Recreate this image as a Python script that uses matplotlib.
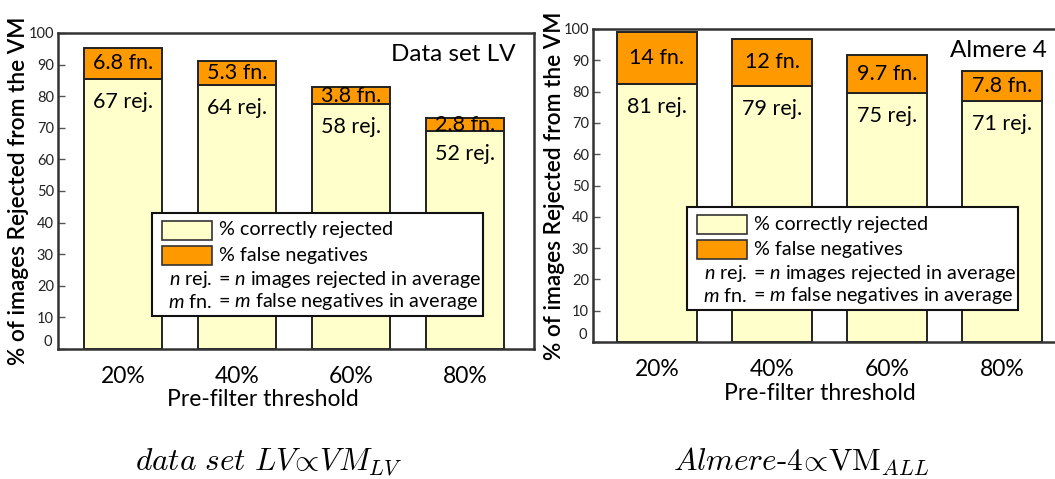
import matplotlib
matplotlib.use('Agg')
import matplotlib.pyplot as plt
from matplotlib.patches import Rectangle
import numpy as np

plt.rcParams['font.family'] = ['Lato', 'DejaVu Sans']
plt.rcParams['mathtext.fontset'] = 'custom'
plt.rcParams['mathtext.rm'] = 'Lato'
plt.rcParams['mathtext.it'] = 'Lato:italic'

# data
thresholds = ['20%', '40%', '60%', '80%']

lv_correct = [85.4, 83.4, 77.4, 68.9]
lv_false = [9.9, 7.7, 5.4, 4.1]
lv_rej = ['67', '64', '58', '52']
lv_fn = ['6.8', '5.3', '3.8', '2.8']

alm_correct = [82.5, 81.9, 79.6, 77.1]
alm_false = [16.6, 14.9, 12.0, 9.5]
alm_rej = ['81', '79', '75', '71']
alm_fn = ['14', '12', '9.7', '7.8']

W, H = 1055, 479
CREAM = '#ffffcc'
ORANGE = '#ff9900'
EDGE = '#222222'
KEY_FS = 14.2

fig = plt.figure(figsize=(W / 100, H / 100), dpi=100)


def fx(px):
    return px / W


def fy(py):
    return 1 - py / H


def panel(rect, correct, false, rej, fn, title, xlim, barw, ylab_x, xlab_pos, key):
    left, top, right, bottom = rect
    ax = fig.add_axes([fx(left), fy(bottom), fx(right - left), fy(top) - fy(bottom)])
    x = np.arange(len(thresholds))
    ax.bar(x, correct, barw, color=CREAM, edgecolor=EDGE, linewidth=1.4, zorder=2)
    ax.bar(x, false, barw, bottom=correct, color=ORANGE, edgecolor=EDGE, linewidth=1.4, zorder=2)
    for i in range(len(x)):
        ax.text(x[i], correct[i] + false[i] / 2, fn[i] + ' fn.', ha='center', va='center',
                fontsize=15.5, zorder=3)
        ax.annotate(rej[i] + ' rej.', (x[i], correct[i]), xytext=(0, -23),
                    textcoords='offset pixels', ha='center', va='center', fontsize=15.5, zorder=3)
    ax.set_xlim(*xlim)
    ax.set_ylim(0, 100)
    ax.set_xticks(x)
    ax.set_xticklabels(thresholds, fontsize=16.5)
    ax.tick_params(axis='x', length=0, pad=12)
    ax.set_yticks(np.arange(0, 101, 10))
    ax.set_yticklabels([''] + [str(v) for v in range(10, 101, 10)], fontsize=10.5, color='#222222')
    ax.tick_params(axis='y', direction='in', length=5, width=1, color='#555555', pad=3)
    ax.text(-0.012, 0.0, '0', transform=ax.transAxes, ha='right', va='bottom',
            fontsize=10.5, color='#222222')
    for s in ax.spines.values():
        s.set_linewidth(1.8)
        s.set_color('#333333')
    ax.set_ylabel('% of images Rejected from the VM', fontsize=16.3, fontweight='semibold')
    ax.yaxis.set_label_coords(ylab_x, 0.5)
    ax.set_xlabel('Pre-filter threshold', fontsize=16.5, va='center')
    ax.xaxis.set_label_coords(*xlab_pos)
    ax.text(0.962, 0.932, title, transform=ax.transAxes, ha='right', va='center', fontsize=17.5)

    # key box
    kx, ky = key
    fig.patches.append(Rectangle((fx(kx), fy(ky + 103)), fx(331), fy(0) - fy(103),
                                 transform=fig.transFigure, facecolor='white',
                                 edgecolor='#111111', linewidth=1.5, zorder=5))
    rows = [ky + 17, ky + 42, ky + 66, ky + 89]
    for r, c, lab in [(rows[0], CREAM, '% correctly rejected'), (rows[1], ORANGE, '% false negatives')]:
        fig.patches.append(Rectangle((fx(kx + 10), fy(r + 9.5)), fx(50), fy(0) - fy(19),
                                     transform=fig.transFigure, facecolor=c,
                                     edgecolor='#333333', linewidth=1.2, zorder=6))
        fig.text(fx(kx + 67), fy(r), lab, ha='left', va='center', fontsize=KEY_FS, zorder=7)
    fig.text(fx(kx + 60), fy(rows[2]), '$n$ rej.', ha='right', va='center', fontsize=KEY_FS, zorder=7)
    fig.text(fx(kx + 66), fy(rows[2]), '= $n$ images rejected in average', ha='left',
             va='center', fontsize=KEY_FS, zorder=7)
    fig.text(fx(kx + 60), fy(rows[3]), '$m$ fn.', ha='right', va='center', fontsize=KEY_FS, zorder=7)
    fig.text(fx(kx + 66), fy(rows[3]), '= $m$ false negatives in average', ha='left',
             va='center', fontsize=KEY_FS, zorder=7)
    return ax


panel((58, 33, 534, 349), lv_correct, lv_false, lv_rej, lv_fn, 'Data set LV',
      (-0.57, 3.605), 0.684, -0.06, (0.43, -0.161), (152, 213))
panel((593, 29, 1065, 342), alm_correct, alm_false, alm_rej, alm_fn, 'Almere 4',
      (-0.557, 3.548), 0.696, -0.059, (0.481, -0.163), (687, 207))

fig.text(fx(269), fy(462), r'$\mathit{data\ set\ LV}\!\propto\!\mathit{VM}_{LV}$',
         ha='center', va='center', fontsize=22.5, math_fontfamily='cm')
fig.text(fx(801), fy(462), r'$\mathit{Almere}$-$\mathit{4}\!\propto\!\mathrm{VM}_{ALL}$',
         ha='center', va='center', fontsize=22.5, math_fontfamily='cm', family='cmr10')

fig.savefig('out.png', dpi=100)
